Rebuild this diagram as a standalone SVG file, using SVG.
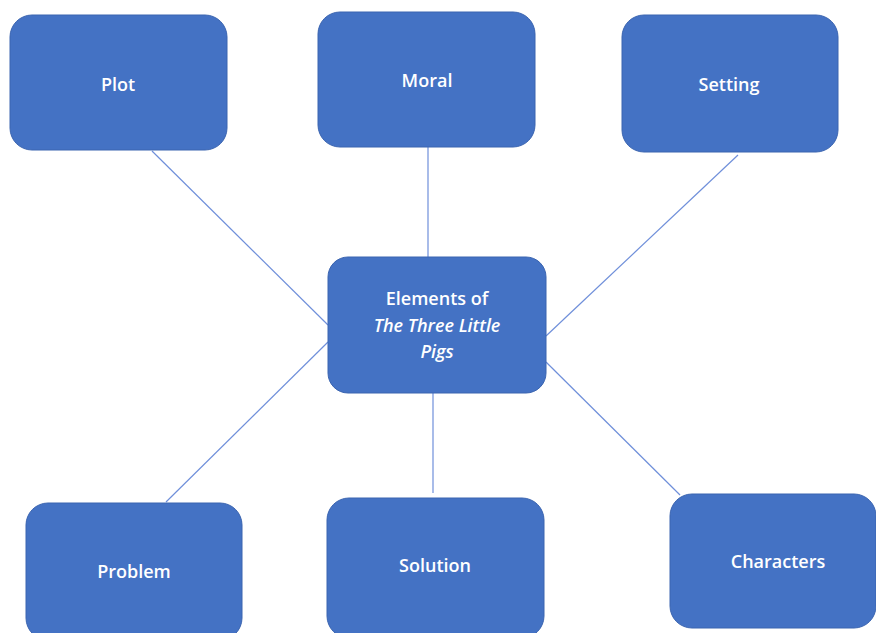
<svg xmlns="http://www.w3.org/2000/svg" width="876" height="633" viewBox="0 0 876 633">
<style>
.box{fill:#4472C4;stroke:#3A64B0;stroke-width:1}
.t{fill:#fff;font-family:"Open Sans","Noto Sans",sans-serif;font-size:18px;font-weight:600;text-anchor:middle}
.i{font-style:italic}
.c{stroke:#6F8FDA;stroke-width:1.2;fill:none}
</style>
<rect width="876" height="633" fill="#fff"/>
<g id="connectors">
<line class="c" x1="152" y1="151" x2="328" y2="325"/>
<line class="c" x1="428" y1="147" x2="428" y2="257"/>
<line class="c" x1="738" y1="155" x2="546" y2="336"/>
<line class="c" x1="166" y1="502" x2="328" y2="342"/>
<line class="c" x1="433" y1="393" x2="433" y2="493"/>
<line class="c" x1="546" y1="362" x2="680" y2="495"/>
</g>
<g id="plot"><rect class="box" x="10" y="15" width="217" height="135" rx="22"/><text class="t" x="118" y="91">Plot</text></g>
<g id="moral"><rect class="box" x="318" y="12" width="217" height="135" rx="22"/><text class="t" x="427" y="87">Moral</text></g>
<g id="setting"><rect class="box" x="622" y="15" width="216" height="137" rx="22"/><text class="t" x="729" y="91">Setting</text></g>
<g id="center"><rect class="box" x="328" y="257" width="218" height="136" rx="20"/>
<text class="t" x="437" y="305">Elements of</text>
<text class="t i" x="437" y="332">The Three Little</text>
<text class="t i" x="437" y="358">Pigs</text></g>
<g id="problem"><rect class="box" x="26" y="503" width="216" height="137" rx="22"/><text class="t" x="134" y="578">Problem</text></g>
<g id="solution"><rect class="box" x="327" y="498" width="217" height="140" rx="22"/><text class="t" x="435" y="572">Solution</text></g>
<g id="characters"><rect class="box" x="670" y="494" width="206" height="134" rx="22"/><text class="t" x="778" y="568">Characters</text></g>
</svg>
